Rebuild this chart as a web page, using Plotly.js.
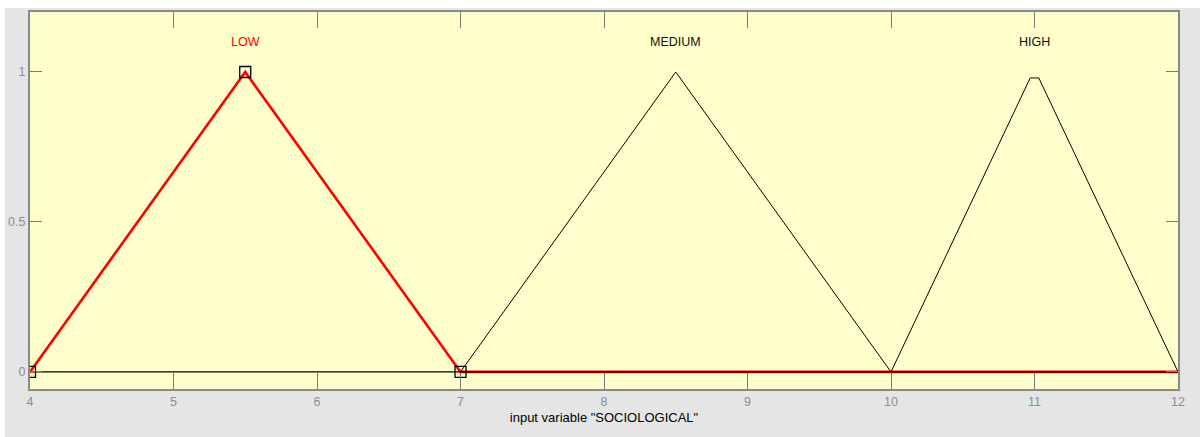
<!DOCTYPE html>
<html>
<head>
<meta charset="utf-8">
<script src="https://cdn.plot.ly/plotly-3.0.1.min.js"></script>
<style>
  html, body { margin: 0; padding: 0; background: #fff; }
  #myPlot { width: 1200px; height: 437px; }
</style>
</head>
<body>
<div id="myPlot"></div>
<script>
// membership functions of input variable SOCIOLOGICAL
const low_x = [4, 5.5, 7, 12];
const low_y = [0, 1, 0, 0];
const medium_x = [7, 8.5, 10];
const medium_y = [0, 1, 0];
const high_x = [10, 10.97, 11.03, 12];
const high_y = [0, 0.98, 0.98, 0];

// selected MF handles
const handle_x = [4, 5.5, 7];
const handle_y = [0, 1, 0];

const mf_names = ['LOW', 'MEDIUM', 'HIGH'];
const mf_centers = [5.5, 8.5, 11];
const label_y = 1.1;

const x_ticks = [4, 5, 6, 7, 8, 9, 10, 11, 12];
const y_ticks = [0, 0.5, 1];

const graph_div_id = 'myPlot';

const data = [
    { x: low_x, y: low_y, mode: 'lines', line: { color: '#ff0000', width: 2.6 }, hoverinfo: 'none' },
    { x: [4, 12], y: [0, 0], mode: 'lines', line: { color: '#000000', width: 1.3 }, hoverinfo: 'none' },
    { x: medium_x, y: medium_y, mode: 'lines', line: { color: '#000000', width: 1 }, hoverinfo: 'none' },
    { x: high_x, y: high_y, mode: 'lines', line: { color: '#000000', width: 1 }, hoverinfo: 'none' },
    {
        x: handle_x, y: handle_y, mode: 'markers', hoverinfo: 'none',
        marker: { symbol: 'square-open', size: 11, color: '#000000', line: { width: 1.3 } },
        cliponaxis: true
    }
];

const annotations = mf_names.map(function (name, i) {
    return {
        x: mf_centers[i], y: label_y, xref: 'x', yref: 'y',
        text: name, showarrow: false,
        font: { family: 'Liberation Sans, Arial', size: 12.5, color: i === 0 ? '#ff0000' : '#111111' }
    };
});

const layout = {
    width: 1200,
    height: 437,
    showlegend: false,
    paper_bgcolor: '#e5e5e5',
    plot_bgcolor: '#ffffcc',
    margin: { l: 30, r: 22, t: 12, b: 48 },
    font: { family: 'Liberation Sans, Arial', size: 12.5, color: '#8c8c96' },
    xaxis: {
        range: [4, 12],
        tickvals: x_ticks,
        ticks: 'inside', ticklen: 16, tickcolor: '#7a7a7a', tickwidth: 1,
        showgrid: false, zeroline: false,
        showline: true, linecolor: '#8a8a8a', linewidth: 2, mirror: 'ticks',
        title: { text: 'input variable "SOCIOLOGICAL"', font: { size: 13, color: '#000000' }, standoff: 5 }
    },
    yaxis: {
        range: [-0.057, 1.2],
        tickvals: y_ticks,
        ticktext: ['0', '0.5', '1'],
        ticks: 'inside', ticklen: 12, tickcolor: '#7a7a7a', tickwidth: 1,
        showgrid: false, zeroline: false,
        showline: true, linecolor: '#8a8a8a', linewidth: 2, mirror: 'ticks'
    },
    annotations: annotations,
    shapes: [
        // white strips above and left of the grey figure panel
        {
            type: 'rect', xref: 'paper', yref: 'paper', layer: 'below',
            x0: -0.03, x1: 1.03, y0: 1.0108, y1: 1.04,
            fillcolor: '#ffffff', line: { width: 0 }
        },
        {
            type: 'rect', xref: 'paper', yref: 'paper', layer: 'below',
            x0: -0.03, x1: -0.0218, y0: -0.13, y1: 1.04,
            fillcolor: '#ffffff', line: { width: 0 }
        }
    ]
};

window.onload = function () {
    Plotly.newPlot(graph_div_id, data, layout, { displayModeBar: false, staticPlot: true });
}
</script>
</body>
</html>
